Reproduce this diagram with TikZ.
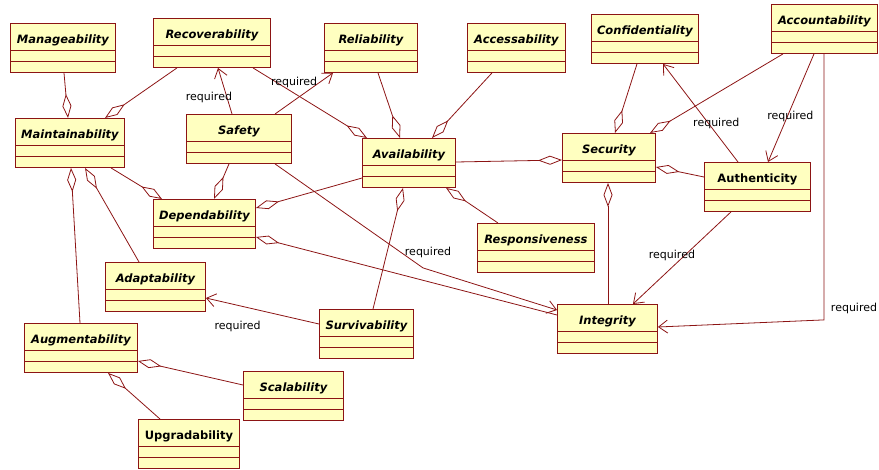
\documentclass[tikz,border=0pt]{standalone}
\usepackage{fontspec}
\setmainfont{DejaVu Sans}
\usetikzlibrary{arrows.meta}
\definecolor{umlline}{RGB}{140,20,20}
\definecolor{umlfill}{RGB}{255,255,192}

\begin{document}
\begin{tikzpicture}[x=1pt, y=1pt,
    cls/.style={draw=umlline, fill=umlfill, line width=0.9pt, anchor=north west,
      inner xsep=2pt, inner ysep=0pt, text height=20pt, text depth=29pt,
      font=\fontsize{11.5}{13}\selectfont\bfseries\itshape,
      path picture={
        \draw[umlline, line width=0.9pt] ([yshift=-27pt]path picture bounding box.north west) -- ([yshift=-27pt]path picture bounding box.north east);
        \draw[umlline, line width=0.9pt] ([yshift=-38pt]path picture bounding box.north west) -- ([yshift=-38pt]path picture bounding box.north east);}},
    upright/.style={font=\fontsize{11.5}{13}\selectfont\bfseries},
    agg/.style={draw=umlline, line width=0.8pt, -{Diamond[open, length=24pt, width=9pt]}},
    req/.style={draw=umlline, line width=0.8pt, -{Straight Barb[length=9pt, width=13pt]}},
    lbl/.style={font=\fontsize{11}{13}\selectfont, inner sep=0pt}]
    \useasboundingbox (0,0) rectangle (879,-469);

    % classes, top row
    \node[cls, minimum width=105pt] (mng) at (10,-23) {Manageability};
    \node[cls, minimum width=117pt] (rec) at (153,-18) {Recoverability};
    \node[cls, minimum width=93pt] (rel) at (324,-23) {Reliability};
    \node[cls, minimum width=98pt] (acc) at (467,-23) {Accessability};
    \node[cls, minimum width=107pt] (cnf) at (591,-14) {Confidentiality};
    \node[cls, minimum width=106pt] (act) at (771,-4) {Accountability};

    % middle
    \node[cls, minimum width=109pt] (mnt) at (15,-118) {Maintainability};
    \node[cls, minimum width=105pt] (saf) at (186,-114) {Safety};
    \node[cls, minimum width=93pt] (avl) at (362,-138) {Availability};
    \node[cls, minimum width=93pt] (sec) at (562,-133) {Security};
    \node[cls, upright, minimum width=106pt] (aut) at (704,-162) {Authenticity};
    \node[cls, minimum width=102pt] (dep) at (153,-199) {Dependability};
    \node[cls, minimum width=117pt] (rsp) at (477,-223) {Responsiveness};

    % bottom
    \node[cls, minimum width=100pt] (adp) at (105,-262) {Adaptability};
    \node[cls, minimum width=100pt] (itg) at (557,-304) {Integrity};
    \node[cls, minimum width=94pt] (svv) at (319,-309) {Survivability};
    \node[cls, minimum width=113pt] (aug) at (24,-323) {Augmentability};
    \node[cls, minimum width=100pt] (scl) at (243,-371) {Scalability};
    \node[cls, upright, minimum width=101pt] (upg) at (138,-419) {Upgradability};

    % aggregations
    \draw[agg] ([xshift=54pt]mng.south west) -- ([xshift=53pt]mnt.north west);
    \draw[agg] ([xshift=24pt]rec.south west) -- ([xshift=90pt]mnt.north west);
    \draw[agg] ([xshift=100pt]rec.south west) -- ([xshift=5pt]avl.north west);
    \draw[agg] ([xshift=54pt]rel.south west) -- ([xshift=38pt]avl.north west);
    \draw[agg] ([xshift=25pt]acc.south west) -- ([xshift=70pt]avl.north west);
    \draw[agg] ([yshift=-24pt]avl.north east) -- ([yshift=-27pt]sec.north west);
    \draw[agg] ([xshift=96pt]mnt.south west) -- ([xshift=9pt]dep.north west);
    \draw[agg] ([xshift=43pt]saf.south west) -- ([xshift=61pt]dep.north west);
    \draw[agg] ([yshift=-40pt]avl.north west) -- ([yshift=-9pt]dep.north east);
    \draw[agg] ([yshift=-11pt]itg.north west) -- ([yshift=-38pt]dep.north east);
    \draw[agg] ([xshift=21pt]rsp.north west) -- ([xshift=84pt]avl.south west);
    \draw[agg] ([xshift=54pt]svv.north west) -- ([xshift=41pt]avl.south west);
    \draw[agg] ([xshift=34pt]adp.north west) -- ([xshift=70pt]mnt.south west);
    \draw[agg] ([xshift=56pt]aug.north west) -- ([xshift=56pt]mnt.south west);
    \draw[agg] ([yshift=-14pt]scl.north west) -- ([yshift=-38pt]aug.north east);
    \draw[agg] ([xshift=22pt]upg.north west) -- ([xshift=84pt]aug.south west);
    \draw[agg] ([xshift=46pt]cnf.south west) -- ([xshift=53pt]sec.north west);
    \draw[agg] ([xshift=12pt]act.south west) -- ([xshift=88pt]sec.north west);
    \draw[agg] ([yshift=-15pt]aut.north west) -- ([yshift=-34pt]sec.north east);
    \draw[agg] ([xshift=51pt]itg.north west) -- ([xshift=46pt]sec.south west);

    % required
    \draw[req] ([xshift=46pt]saf.north west) -- node[lbl, pos=0.36, xshift=-18pt] {required} ([xshift=65pt]rec.south west);
    \draw[req] ([xshift=89pt]saf.north west) -- node[lbl, pos=0.33, yshift=18pt] {required} ([xshift=9pt]rel.south west);
    \draw[req] ([xshift=89pt]saf.south west) -- ++(148,-104) node[lbl, xshift=5pt, yshift=15pt] {required} -- ([yshift=-6pt]itg.north west);
    \draw[req] ([yshift=-15pt]svv.north west) -- node[lbl, pos=0.72, yshift=-21pt] {required} ([yshift=-36pt]adp.north east);
    \draw[req] ([xshift=34pt]aut.north west) -- node[lbl, pos=0.39, xshift=7.5pt] {required} ([xshift=72pt]cnf.south west);
    \draw[req] ([xshift=43pt]act.south west) -- node[lbl, pos=0.58, xshift=3pt] {required} ([xshift=64pt]aut.north west);
    \draw[req] ([xshift=27pt]aut.south west) -- node[lbl, pos=0.47, xshift=-13pt] {required} ([xshift=76pt]itg.north west);
    \draw[req] ([xshift=53pt]act.south west) -- ++(0,-266) node[lbl, xshift=30pt, yshift=11pt] {required} -- ([yshift=-23pt]itg.north east);
\end{tikzpicture}
\end{document}
